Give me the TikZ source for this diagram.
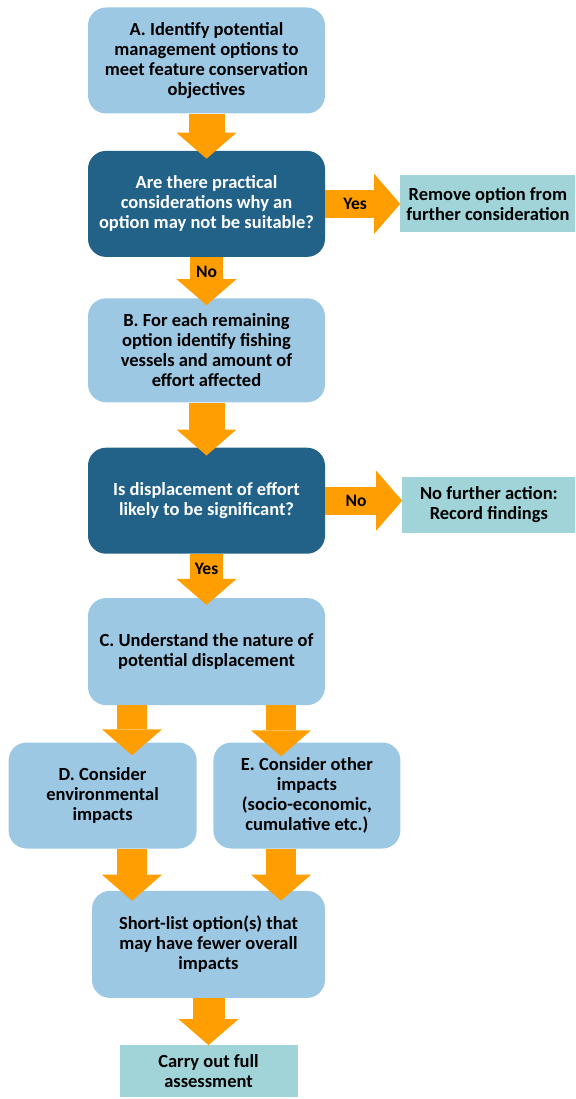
\documentclass[tikz,border=0pt]{standalone}
\usepackage{fontspec}
\setmainfont{Carlito}
\usepackage{xcolor}
\usetikzlibrary{arrows.meta, positioning}

\definecolor{boxblue}{RGB}{157,200,228}
\definecolor{askblue}{RGB}{35,98,136}
\definecolor{arroworange}{RGB}{255,158,0}
\definecolor{endteal}{RGB}{160,212,216}

\tikzset{
  stage/.style={rectangle, rounded corners=18pt, fill=boxblue, align=center,
    minimum width=237pt, minimum height=106pt, inner sep=4pt,
    font=\fontsize{18.5}{20}\selectfont\bfseries, text=black},
  question/.style={stage, fill=askblue, text=white},
  outcome/.style={rectangle, fill=endteal, align=center, inner sep=4pt,
    minimum width=175pt, minimum height=57pt,
    font=\fontsize{18.5}{20}\selectfont\bfseries, text=black},
  fatarrow/.style={draw=arroworange, line width=#1, line cap=butt,
    -{Triangle[width=60pt, length=26pt, line width=0pt, fill=arroworange]}},
  fatarrow/.default=36pt,
  answer/.style={font=\fontsize{17.5}{19}\selectfont\bfseries, text=black}
}

\begin{document}
\begin{tikzpicture}[x=1pt, y=1pt]
\useasboundingbox (0,0) rectangle (575,-1099);

% Main column
\node[stage] (idopt) at (206.5,-60.5) {A. Identify potential\\management options to\\meet feature conservation\\objectives};
\node[question, below=37pt of idopt] (practical) {Are there practical\\considerations why an\\option may not be suitable?};
\node[stage, below=41pt of practical, minimum height=104pt] (vessels) {B. For each remaining\\option identify fishing\\vessels and amount of\\effort affected};
\node[question, below=45pt of vessels] (signif) {Is displacement of effort\\likely to be significant?};
\node[stage, below=44pt of signif, minimum height=107pt] (nature) {C. Understand the nature of\\potential displacement};

% Side outcomes
\node[outcome, right=75pt of practical] (remove) {Remove option from\\further consideration};
\node[outcome, right=77pt of signif, yshift=-4pt, minimum width=173pt, minimum height=56pt] (noaction) {No further action:\\Record findings};

% Impact branches
\node[stage, minimum width=188pt, below left=37pt and -109pt of nature] (env) {D. Consider\\environmental\\impacts};
\node[stage, minimum width=187pt, below right=37pt and -112pt of nature] (other) {E. Consider other\\impacts\\(socio-economic,\\cumulative etc.)};
\node[stage, minimum width=233pt, minimum height=107pt, below=42pt of nature.south |- env.south, xshift=2pt] (shortlist) {Short-list option(s) that\\may have fewer overall\\impacts};
\node[outcome, below=47pt of shortlist, minimum width=178pt, minimum height=52pt] (fullassess) {Carry out full\\assessment};

% Branch points
\coordinate (cl) at ([xshift=-74.5pt]nature.south);
\coordinate (cr) at ([xshift=74.5pt]nature.south);

% Arrows
\draw[fatarrow] (idopt.south) -- ([yshift=-8pt]practical.north);
\draw[fatarrow=33pt] (practical.south) -- ([yshift=-7pt]vessels.north)
  node[answer, pos=0.3] {No};
\draw[fatarrow=28pt] (practical.east) -- (remove.west)
  node[answer, pos=0.4] {Yes};
\draw[fatarrow] (vessels.south) -- ([yshift=-8pt]signif.north);
\draw[fatarrow=28pt] (signif.east) -- (noaction.west |- signif.east)
  node[answer, pos=0.4] {No};
\draw[fatarrow=33pt] (signif.south) -- ([yshift=-7pt]nature.north)
  node[answer, pos=0.3] {Yes};
\draw[fatarrow=30pt] (cl) -- ([yshift=-13pt]cl |- env.north);
\draw[fatarrow=30pt] (cr) -- ([yshift=-14pt]cr |- other.north);
\draw[fatarrow=30pt] (cl |- env.south) -- ([yshift=-10pt]cl |- shortlist.north);
\draw[fatarrow=30pt] (cr |- other.south) -- ([yshift=-10pt]cr |- shortlist.north);
\draw[fatarrow=32pt] (shortlist.south) -- (fullassess.north);
\end{tikzpicture}
\end{document}
